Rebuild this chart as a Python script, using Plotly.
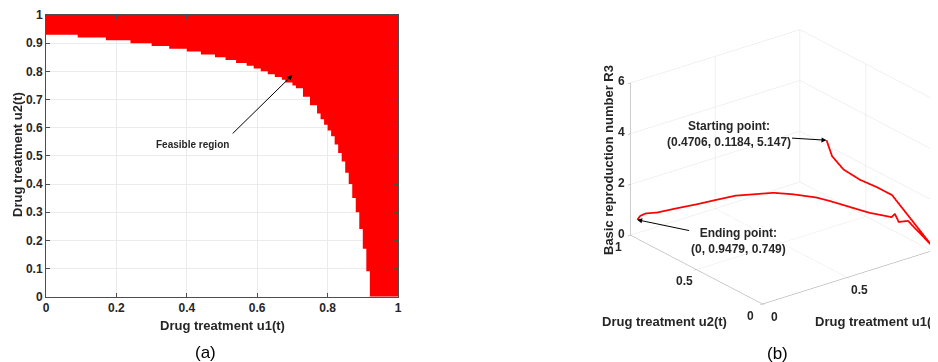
import plotly.graph_objects as go

# ---------------- Panel (a): feasible region boundary (staircase corners) ----------------
boundary_u1 = [0.00, 0.09, 0.17, 0.24, 0.30, 0.35, 0.40, 0.44, 0.48, 0.51, 0.54, 0.57,
               0.59, 0.61, 0.63, 0.65, 0.67, 0.68, 0.70, 0.71, 0.73,
               0.74, 0.75, 0.76, 0.77, 0.78, 0.79, 0.80, 0.81, 0.82, 0.83, 0.84,
               0.85, 0.86, 0.87, 0.88, 0.89, 0.90, 0.91, 0.92, 0.93]
boundary_u2 = [0.93, 0.92, 0.91, 0.90, 0.89, 0.88, 0.87, 0.86, 0.85, 0.84, 0.83, 0.82,
               0.81, 0.80, 0.79, 0.78, 0.77, 0.76, 0.75, 0.74, 0.73,
               0.71, 0.70, 0.68, 0.67, 0.65, 0.63, 0.61, 0.59, 0.57, 0.54, 0.51,
               0.48, 0.44, 0.40, 0.35, 0.30, 0.24, 0.17, 0.09, 0.00]

# ---------------- Panel (b): trajectory (u1, u2, R3) ----------------
u1_path = [0.4706, 0.50, 0.564, 0.658, 0.75, 0.842, 1.00, 0.921, 0.913, 0.910, 0.907,
           0.885, 0.855, 0.83, 0.80, 0.74, 0.665, 0.50, 0.41, 0.31, 0.20, 0.095, 0.04, 0.015, 0.0]
u2_path = [0.1184, 0.115, 0.110, 0.105, 0.102, 0.100, 0.00, 0.080, 0.140, 0.165, 0.185,
           0.33, 0.47, 0.55, 0.62, 0.72, 0.77, 0.845, 0.868, 0.888, 0.905, 0.92, 0.935, 0.945, 0.9479]
r3_path = [5.147, 4.47, 3.82, 3.23, 2.77, 2.26, 0.20, 1.13, 0.94, 1.20, 1.02,
           0.85, 0.81, 0.82, 0.84, 0.82, 0.90, 0.93, 0.90, 0.88, 0.90, 0.91, 0.95, 0.88, 0.749]

u_ticks = [0, 0.5, 1]
r3_ticks = [0, 2, 4, 6]
a_xticks = [0, 0.2, 0.4, 0.6, 0.8, 1]

start_label = "Starting point:<br>(0.4706, 0.1184, 5.147)"
end_label = "Ending point:<br>(0, 0.9479, 0.749)"

# build staircase polygon of the feasible region from the boundary corners
sx, sy = [boundary_u1[0]], [boundary_u2[0]]
for i in range(1, len(boundary_u1)):
    x0, y0 = boundary_u1[i - 1], boundary_u2[i - 1]
    x1, y1 = boundary_u1[i], boundary_u2[i]
    if abs(x1 - x0) >= abs(y1 - y0):
        sx.append(x1); sy.append(y0)
    else:
        sx.append(x0); sy.append(y1)
    sx.append(x1); sy.append(y1)
poly_x = [0.0] + sx + [1.0, 1.0, 0.0]
poly_y = [1.0] + sy + [0.0, 1.0, 1.0]

FONT = "Liberation Sans, Arial, sans-serif"
TXT = "#262626"
W, H = 938, 362
OFF = 8  # page body margin: figure origin sits 8px into the window


def fx(px):
    return (px - OFF) / W


def fy(py):
    return 1 - (py - OFF) / H


fig = go.Figure()
fig.add_trace(go.Scatter(x=poly_x, y=poly_y, mode="lines", fill="toself",
                         fillcolor="#ff0000", line=dict(color="#ff0000", width=0),
                         showlegend=False, hoverinfo="skip"))

fig.add_trace(go.Scatter3d(x=u1_path, y=u2_path, z=r3_path, mode="lines",
                           line=dict(color="#ff0000", width=3.5), showlegend=False))

axis2d = dict(showgrid=True, gridcolor="#ebebeb", gridwidth=1, zeroline=False,
              showline=True, linecolor="#4d4d4d", linewidth=1, mirror="ticks",
              ticks="inside", ticklen=4, tickcolor="#4d4d4d", automargin=False,
              tickfont=dict(family=FONT, size=12, color=TXT, weight="bold"))

fig.update_layout(
    width=W, height=H, margin=dict(l=0, r=0, t=0, b=0),
    paper_bgcolor="white", plot_bgcolor="white",
    xaxis=dict(domain=[fx(46), fx(398)], range=[0, 1], tickvals=a_xticks, **axis2d),
    yaxis=dict(domain=[fy(296.7), fy(15)], range=[0, 1], dtick=0.1, **axis2d),
)

axis3d = dict(showbackground=False, gridcolor="#e3e3e3", gridwidth=1,
              showline=True, linecolor="#9a9a9a", linewidth=1,
              zeroline=False, showspikes=False, ticks="outside", ticklen=3,
              tickcolor="#9a9a9a", showticklabels=False,
              title=dict(text=""))

ed = (-0.561, -0.723, 0.405)
k = 1.535
c = (-0.1293, 0.0378, -0.1118)

tick_font = dict(family=FONT, size=12, color=TXT)
scene_ann = []
for v in u_ticks:
    scene_ann.append(dict(x=v, y=0, z=0, text="<b>%g</b>" % v, showarrow=False,
                          xshift=12, yshift=-12.5, font=tick_font))
    scene_ann.append(dict(x=0, y=v, z=0, text="<b>%g</b>" % v, showarrow=False,
                          xshift=-12, yshift=-11.5, font=tick_font))
for v in r3_ticks:
    scene_ann.append(dict(x=0, y=1, z=v, text="<b>%g</b>" % v, showarrow=False,
                          xshift=-9, yshift=1.5, font=tick_font))
scene_ann += [
    dict(x=u1_path[0], y=u2_path[0], z=r3_path[0], text="<b>" + start_label + "</b>",
         showarrow=True, ax=-98, ay=-6, arrowhead=2, arrowsize=1, arrowwidth=1,
         arrowcolor="black", font=dict(family=FONT, size=12, color=TXT)),
    dict(x=u1_path[-1], y=u2_path[-1], z=r3_path[-1], text="<b>" + end_label + "</b>",
         showarrow=True, ax=101, ay=21, arrowhead=2, arrowsize=1, arrowwidth=1,
         arrowcolor="black", font=dict(family=FONT, size=12, color=TXT)),
]

fig.update_layout(scene=dict(
    domain=dict(x=[0.6, 1.0], y=[0.0, 1.0]),
    xaxis=dict(range=[0, 1], tickvals=u_ticks, **axis3d),
    yaxis=dict(range=[0, 1], tickvals=u_ticks, **axis3d),
    zaxis=dict(range=[0, 6], tickvals=r3_ticks, **axis3d),
    aspectmode="manual", aspectratio=dict(x=1.185, y=1.19, z=0.92),
    camera=dict(eye=dict(x=c[0] + ed[0] * k, y=c[1] + ed[1] * k, z=c[2] + ed[2] * k),
                center=dict(x=c[0], y=c[1], z=c[2]), up=dict(x=0, y=0, z=1),
                projection=dict(type="orthographic")),
    annotations=scene_ann,
))

fig.add_annotation(x=0.70, y=0.787, ax=0.526, ay=0.574, xref="x", yref="y",
                   axref="x", ayref="y", text="", showarrow=True, arrowhead=2,
                   arrowsize=1, arrowwidth=1, arrowcolor="black")
fig.add_annotation(x=0.415, y=0.54, xref="x", yref="y", text="<b>Feasible region</b>",
                   showarrow=False, font=dict(family=FONT, size=10, color=TXT))

titles = [
    dict(text="<b>Drug treatment u1(t)</b>", x=fx(222), y=fy(325.7), xanchor="center"),
    dict(text="<b>Drug treatment u2(t)</b>", x=fx(664), y=fy(321.7), xanchor="center"),
    dict(text="<b>Drug treatment u1(t)</b>", x=fx(813), y=fy(321.7), xanchor="left"),
]
for t in titles:
    fig.add_annotation(xref="paper", yref="paper", showarrow=False, yanchor="middle",
                       font=dict(family=FONT, size=13, color=TXT), **t)
for txt, xx, yy in [("<b>Drug treatment u2(t)</b>", 17, 155),
                    ("<b>Basic reproduction number R3</b>", 608, 160)]:
    fig.add_annotation(xref="paper", yref="paper", x=fx(xx), y=fy(yy), showarrow=False,
                       text=txt, textangle=-90, xanchor="center", yanchor="middle",
                       font=dict(family=FONT, size=13, color=TXT))
for lbl, xx, yy in [("(a)", 205, 352), ("(b)", 777, 353)]:
    fig.add_annotation(xref="paper", yref="paper", x=fx(xx), y=fy(yy), showarrow=False,
                       text=lbl, xanchor="center", yanchor="middle",
                       font=dict(family=FONT, size=17, color="black"))

fig.write_html("out.html")
